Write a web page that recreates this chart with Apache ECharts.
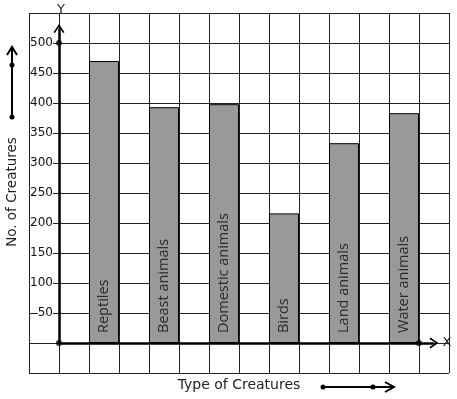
<!DOCTYPE html>
<html lang="en">
<head>
    <meta charset="UTF-8" />
    <title>Type of Creatures</title>
    <script src="https://cdn.jsdelivr.net/npm/echarts@6.0.0/dist/echarts.min.js"></script>
    <style>
        html, body { margin: 0; padding: 0; background: #fff; }
        #lienzo { width: 457px; height: 399px; }
    </style>
</head>
<body>
    <div id="lienzo"></div>
    <script>
        // datos
        const categorias = ['Reptiles', 'Beast animals', 'Domestic animals', 'Birds', 'Land animals', 'Water animals'];
        const valores = [470, 393, 398, 216, 333, 383];
        const posiciones = [1.5, 3.5, 5.5, 7.5, 9.5, 11.5];
        const etiquetasY = [50, 100, 150, 200, 250, 300, 350, 400, 450, 500];

        const chevron = 'path://M0,9 L6,0 L12,9 L10.4,10 L6,3.2 L1.6,10 Z';
        const negro = '#111';

        let myChart = echarts.init(document.getElementById('lienzo'), null, { renderer: 'canvas' });

        myChart.setOption({
            animation: false,
            backgroundColor: '#fff',
            textStyle: { fontFamily: 'DejaVu Sans' },
            grid: { left: 29, top: 13, width: 420, height: 360, containLabel: false, outerBoundsMode: 'none' },
            xAxis: {
                type: 'value',
                min: -1,
                max: 13,
                interval: 1,
                axisLine: { show: false },
                axisTick: { show: false },
                axisLabel: { show: false },
                splitLine: { show: true, lineStyle: { color: '#222', width: 1 } }
            },
            yAxis: {
                type: 'value',
                min: -50,
                max: 550,
                interval: 50,
                // el eje va en x = 0, una columna dentro de la rejilla
                offset: -30,
                axisLine: { show: false },
                axisTick: { show: false },
                axisLabel: {
                    show: true,
                    margin: 6,
                    color: negro,
                    fontSize: 12,
                    fontFamily: 'DejaVu Sans',
                    backgroundColor: '#fff',
                    padding: [1, 0, 0, 0],
                    formatter: (v) => etiquetasY.includes(v) ? String(v) : ''
                },
                splitLine: { show: true, lineStyle: { color: '#222', width: 1 } }
            },
            series: [
                {
                    name: 'No. of Creatures',
                    type: 'bar',
                    barWidth: 30,
                    data: posiciones.map((x, i) => [x, valores[i]]),
                    itemStyle: { color: '#999', borderColor: '#000', borderWidth: 1 },
                    label: {
                        show: true,
                        position: 'insideBottom',
                        distance: 10,
                        rotate: 90,
                        align: 'left',
                        verticalAlign: 'middle',
                        color: '#2a2a2a',
                        fontSize: 14.5,
                        fontFamily: 'Open Sans',
                        formatter: (p) => categorias[p.dataIndex]
                    },
                    markLine: {
                        silent: true,
                        symbol: ['none', chevron],
                        symbolSize: [11, 9],
                        lineStyle: { color: '#000', width: 2.5, type: 'solid' },
                        label: { show: false },
                        data: [
                            [{ coord: [0, 0] }, { coord: [0, 524] }],
                            [{ coord: [0, 0] }, { coord: [12.5, 0] }]
                        ]
                    }
                },
                {
                    type: 'scatter',
                    symbolSize: 6,
                    itemStyle: { color: '#000' },
                    z: 5,
                    data: [[0, 0], [0, 500], [12, 0]]
                }
            ],
            graphic: [
                {
                    type: 'text', x: 61, y: 10,
                    style: { text: 'Y', font: '13px DejaVu Sans', fill: '#222', align: 'center', verticalAlign: 'middle', backgroundColor: '#fff', padding: [0, 2] }
                },
                {
                    type: 'text', x: 447, y: 343,
                    style: { text: 'X', font: '13px DejaVu Sans', fill: '#222', align: 'center', verticalAlign: 'middle' }
                },
                {
                    type: 'text', x: 12, y: 192, rotation: Math.PI / 2,
                    style: { text: 'No. of Creatures', font: '13.5px DejaVu Sans', fill: '#222', align: 'center', verticalAlign: 'middle' }
                },
                {
                    type: 'text', x: 239, y: 385,
                    style: { text: 'Type of Creatures', font: '14px DejaVu Sans', fill: '#222', align: 'center', verticalAlign: 'middle' }
                },
                // flecha izquierda
                { type: 'line', shape: { x1: 12, y1: 117, x2: 12, y2: 48 }, style: { stroke: '#000', lineWidth: 2 } },
                { type: 'polyline', shape: { points: [[7, 55], [12, 47], [17, 55]] }, style: { stroke: '#000', lineWidth: 2, fill: null } },
                { type: 'circle', shape: { cx: 12, cy: 65, r: 2.5 }, style: { fill: '#000' } },
                { type: 'circle', shape: { cx: 12, cy: 117, r: 2.5 }, style: { fill: '#000' } },
                // flecha inferior
                { type: 'line', shape: { x1: 323, y1: 387, x2: 393, y2: 387 }, style: { stroke: '#000', lineWidth: 2 } },
                { type: 'polyline', shape: { points: [[385, 382], [394, 387], [385, 392]] }, style: { stroke: '#000', lineWidth: 2, fill: null } },
                { type: 'circle', shape: { cx: 323, cy: 387, r: 2.5 }, style: { fill: '#000' } },
                { type: 'circle', shape: { cx: 373, cy: 387, r: 2.5 }, style: { fill: '#000' } }
            ]
        });
    </script>
</body>
</html>
